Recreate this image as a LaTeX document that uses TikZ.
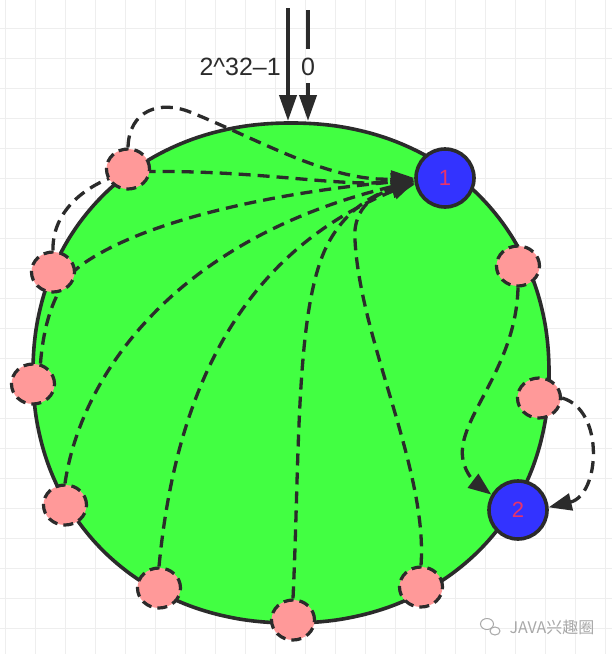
\documentclass[tikz,border=0pt]{standalone}
\usepackage{fontspec}
\setmainfont{Liberation Sans}
\newfontfamily\cjkfont{Noto Sans CJK SC}
\usetikzlibrary{arrows.meta,shapes.geometric}
\definecolor{ink}{HTML}{2B2B2B}
\definecolor{ringgreen}{HTML}{42FF42}
\definecolor{nodeblue}{HTML}{3333FF}
\definecolor{nodepink}{HTML}{FF9999}
\definecolor{numred}{HTML}{E8336A}
\definecolor{gridgray}{HTML}{EEEEEE}
\definecolor{wmgray}{HTML}{A8A8A8}
\pgfdeclarelayer{bg}
\pgfdeclarelayer{edges}
\pgfsetlayers{bg,edges,main}
\tikzset{
  gridline/.style={draw=gridgray, line width=1pt},
  ringstyle/.style={draw=ink, fill=ringgreen, line width=3.6pt},
  pinknode/.style={ellipse, draw=ink, fill=nodepink, line width=3.2pt,
    dash pattern=on 10pt off 6pt, minimum width=43pt, minimum height=40pt, inner sep=0pt},
  bluenode/.style={circle, draw=ink, fill=nodeblue, line width=3.6pt,
    minimum size=58pt, inner sep=0pt, text=numred, font=\fontsize{22}{26}\selectfont},
  flowplain/.style={draw=ink, line width=3.3pt, dash pattern=on 12pt off 7pt},
  flow/.style={flowplain, -{Triangle[length=23pt,width=17pt]}},
  topline/.style={draw=ink, line width=4pt},
  toparrow/.style={topline, -{Triangle[length=26pt,width=17pt]}},
  toplabel/.style={text=ink, font=\fontsize{25}{30}\selectfont, inner sep=0pt},
}
\begin{document}
\begin{tikzpicture}[x=1pt,y=-1pt]
\useasboundingbox (0,0) rectangle (612,654);
\begin{pgfonlayer}{bg}
  \fill[white] (0,0) rectangle (612,654);
  \foreach \gx in {5,35,...,605} \draw[gridline] (\gx,0) -- (\gx,654);
  \foreach \gy in {28,58,...,652} \draw[gridline] (0,\gy) -- (612,\gy);
  \draw[ringstyle] plot[smooth cycle, domain=1:359, samples=180, variable=\t]
    ({291+258*sign(cos(\t))*(abs(cos(\t)))^0.95}, {373+250*sign(sin(\t))*(abs(sin(\t)))^0.95});
\end{pgfonlayer}

% nodes
\node[pinknode] (p1) at (128,169) {};
\node[pinknode] (p2) at (53,272) {};
\node[pinknode] (p3) at (33,384) {};
\node[pinknode] (p4) at (65,505) {};
\node[pinknode] (p5) at (159,588) {};
\node[pinknode] (p6) at (293,620) {};
\node[pinknode] (p7) at (421,587) {};
\node[pinknode] (p8) at (518,266) {};
\node[pinknode] (p9) at (539,398) {};
\node[bluenode] (b1) at (445,178) {1};
\node[bluenode] (b2) at (518,510) {2};

% top markers
\coordinate (ta0) at (288,8);
\coordinate (ta1) at (288,121);
\coordinate (tb0) at (308,10);
\coordinate (tb1) at (308,121);
\node[toplabel, anchor=east] (lblmax) at (281,67) {2\textasciicircum 32–1};
\node[toplabel, inner ysep=8pt, text height=18pt, text depth=0pt] (zero) at (308,66) {0};
\draw[toparrow] (ta0) -- (ta1);
\draw[topline] (tb0) -- (zero.north);
\draw[toparrow] (zero.south) -- (tb1);

% connectors
\begin{pgfonlayer}{edges}
  \draw[flow] (p1.north) .. controls (129,110) and (160,100) .. (190,112)
              .. controls (260,140) and (330,182) .. (b1.180);
  \draw[flow] (p2.north) .. controls (52,215) and (80,185) .. (128,172)
              .. controls (250,168) and (340,188) .. (b1.182);
  \draw[flow] (p3.70) .. controls (44,320) and (56,285) .. (80,266)
              .. controls (150,215) and (300,190) .. (b1.184);
  \draw[flow] (p4.north) .. controls (80,380) and (170,240) .. (b1.186);
  \draw[flow] (p5.north) .. controls (175,400) and (235,255) .. (b1.188);
  \draw[flow] (p6.north) .. controls (300,450) and (295,300) .. (330,240)
              .. controls (350,205) and (380,192) .. (b1.190);
  \draw[flow] (p7.north) .. controls (428,470) and (360,340) .. (355,240)
              .. controls (352,205) and (380,192) .. (b1.192);
  \draw[flow] (p8.south) .. controls (516,370) and (455,420) .. (463,460)
              .. controls (466,475) and (476,483) .. (b2.150);
  \draw[flow] (p9.east) .. controls (605,410) and (600,495) .. (b2.5);
\end{pgfonlayer}

% watermark
\node[ellipse, draw=wmgray, fill=white, line width=1pt, minimum width=13pt, minimum height=11pt, inner sep=0pt] (wmicona) at (487,624) {};
\node[ellipse, draw=wmgray, fill=white, line width=1pt, minimum width=10pt, minimum height=8pt, inner sep=0pt] (wmiconb) at (495,631) {};
\node[text=wmgray, font=\cjkfont\fontsize{16}{18}\selectfont, inner sep=0pt] (wm) at (552,627) {JAVA兴趣圈};
\end{tikzpicture}
\end{document}
